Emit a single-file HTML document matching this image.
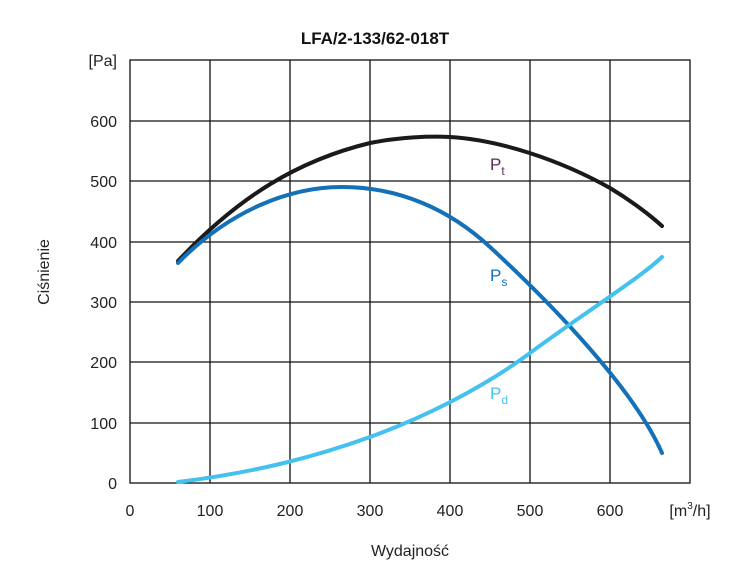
<!DOCTYPE html>
<html><head><meta charset="utf-8"><style>
html,body{margin:0;padding:0;background:#fff;}
svg{display:block;font-family:"Liberation Sans",sans-serif;}
</style></head><body>
<svg width="751" height="576" viewBox="0 0 751 576" xmlns="http://www.w3.org/2000/svg">
<rect width="751" height="576" fill="#fff"/>
<text x="375" y="44" text-anchor="middle" font-size="17" font-weight="bold" fill="#111">LFA/2-133/62-018T</text>
<g stroke="#111" stroke-width="1.3" fill="none">
<rect x="130" y="60" width="560" height="423"/>
<line x1="210" y1="60" x2="210" y2="483"/><line x1="290" y1="60" x2="290" y2="483"/>
<line x1="370" y1="60" x2="370" y2="483"/><line x1="450" y1="60" x2="450" y2="483"/>
<line x1="530" y1="60" x2="530" y2="483"/><line x1="610" y1="60" x2="610" y2="483"/>
<line x1="130" y1="121" x2="690" y2="121"/><line x1="130" y1="181" x2="690" y2="181"/>
<line x1="130" y1="242" x2="690" y2="242"/><line x1="130" y1="302" x2="690" y2="302"/>
<line x1="130" y1="362" x2="690" y2="362"/><line x1="130" y1="423" x2="690" y2="423"/>
</g>
<g font-size="16" fill="#222" text-anchor="end">
<text x="117" y="66">[Pa]</text><text x="117" y="127">600</text><text x="117" y="187">500</text>
<text x="117" y="248">400</text><text x="117" y="308">300</text><text x="117" y="368">200</text>
<text x="117" y="429">100</text><text x="117" y="489">0</text>
</g>
<g font-size="16" fill="#222" text-anchor="middle">
<text x="130" y="516">0</text><text x="210" y="516">100</text><text x="290" y="516">200</text>
<text x="370" y="516">300</text><text x="450" y="516">400</text><text x="530" y="516">500</text>
<text x="610" y="516">600</text><text x="690" y="516">[m<tspan font-size="10" dy="-7">3</tspan><tspan dy="7">/h]</tspan></text>
<text x="410" y="556">Wydajność</text>
<text transform="translate(49,272) rotate(-90)">Ciśnienie</text>
</g>
<g fill="none" stroke-width="4" stroke-linecap="round" stroke-linejoin="round">
<path stroke="#1a1a1a" d="M178,261 C240,195 300,160 370,143 C400,137 430,136 450,137 C500,140 560,160 610,188 C630,200 650,215 662,226"/>
<path stroke="#1470b8" d="M178,263 C230,210 290,187 342,187 C400,187 450,210 490,247 S630,380 662,453"/>
<path stroke="#45c1ef" d="M178,482 C260,472 320,455 370,437 S480,390 530,353 S640,278 662,257"/>
</g>
<g font-size="17">
<text x="490" y="170" fill="#5a2a5a">P<tspan font-size="12" dy="5">t</tspan></text>
<text x="490" y="281" fill="#1470b8">P<tspan font-size="12" dy="5">s</tspan></text>
<text x="490" y="399" fill="#45c1ef">P<tspan font-size="12" dy="5">d</tspan></text>
</g>
</svg>
</body></html>
